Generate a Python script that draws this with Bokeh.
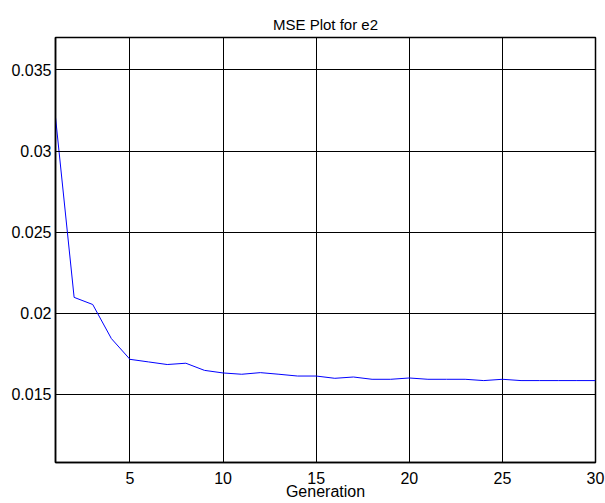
from bokeh.plotting import figure
from bokeh.models import Range1d, FixedTicker, Title
from bokeh.embed import file_html
from bokeh.resources import INLINE

# Data
generation = list(range(1, 31))
mse = [0.03208, 0.02098, 0.02054, 0.01844, 0.01716, 0.01700, 0.01684, 0.01692,
       0.01648, 0.01632, 0.01624, 0.01634, 0.01624, 0.01613, 0.01613, 0.01599,
       0.01607, 0.01593, 0.01593, 0.01601, 0.01593, 0.01593, 0.01593, 0.01585,
       0.01593, 0.01585, 0.01585, 0.01585, 0.01585, 0.01585]

x_ticks = [5, 10, 15, 20, 25, 30]
y_ticks = [0.015, 0.02, 0.025, 0.03, 0.035]
y_tick_labels = ["0.015", "0.02", "0.025", "0.03", "0.035"]

title_text = "MSE Plot for e2"
x_label = "Generation"

FONT = "Liberation Sans"

p = figure(width=605, height=503, output_backend="svg", toolbar_location=None,
           x_range=Range1d(1, 30), y_range=Range1d(0.0108, 0.0370),
           min_border_left=55, min_border_right=10, min_border_top=37,
           min_border_bottom=41)

p.title = Title(text=title_text, align="center", text_font=FONT,
                text_font_size="15px", text_font_style="normal",
                text_color="black", standoff=10)

p.line(generation, mse, line_color="#0000ff", line_width=1)

p.xaxis.ticker = FixedTicker(ticks=x_ticks)
p.yaxis.ticker = FixedTicker(ticks=y_ticks)
p.yaxis.major_label_overrides = {t: l for t, l in zip(y_ticks, y_tick_labels)}
p.xaxis.axis_label = x_label

for ax in (p.xaxis, p.yaxis):
    ax.major_tick_in = 5
    ax.major_tick_out = 0
    ax.minor_tick_in = 0
    ax.minor_tick_out = 0
    ax.major_tick_line_color = "black"
    ax.axis_line_color = "black"
    ax.axis_line_width = 1.5
    ax.major_label_text_font = FONT
    ax.major_label_text_font_size = "16px"
    ax.major_label_text_color = "black"
    ax.axis_label_text_font = FONT
    ax.axis_label_text_font_size = "16px"
    ax.axis_label_text_font_style = "normal"
    ax.axis_label_text_color = "black"

p.yaxis.major_label_standoff = 4
p.xaxis.major_label_standoff = 9
p.xaxis.axis_label_standoff = -4

p.xgrid.ticker = FixedTicker(ticks=x_ticks)
p.ygrid.ticker = FixedTicker(ticks=y_ticks)
for g in (p.xgrid, p.ygrid):
    g.grid_line_color = "black"
    g.grid_line_alpha = 1.0
    g.grid_line_width = 1

p.outline_line_color = "black"
p.outline_line_width = 1.5
p.outline_line_alpha = 1.0
p.background_fill_color = "white"
p.border_fill_color = "white"

open("out.html", "w").write(file_html(p, INLINE))
